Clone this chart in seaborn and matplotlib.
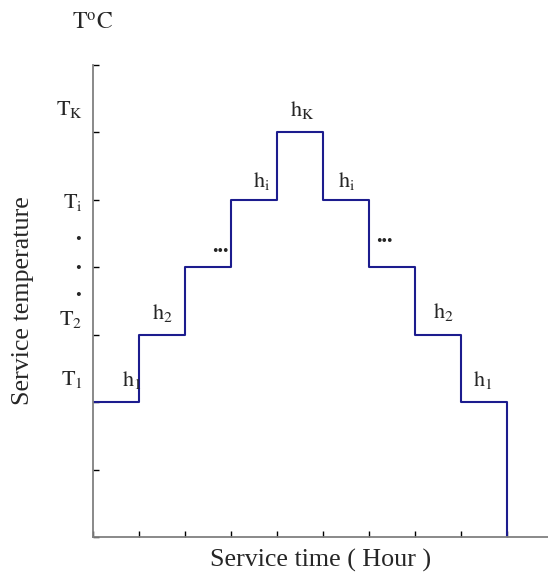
import matplotlib
matplotlib.use("Agg")
import matplotlib.pyplot as plt
import seaborn as sns
import pandas as pd

# Data
time_hours = [0, 1, 2, 3, 4, 5, 6, 7, 8, 9]
temp_levels = [2, 3, 4, 5, 6, 5, 4, 3, 2, 0]
x_ticks = [0, 1, 2, 3, 4, 5, 6, 7, 8, 9]
y_ticks = [0, 1, 2, 3, 4, 5, 6, 7]

y_labels = [r"$\mathrm{T}_\mathrm{K}$", r"$\mathrm{T}_\mathrm{i}$", r"$\mathrm{T}_2$", r"$\mathrm{T}_1$"]
y_label_pos = [6.34, 4.96, 3.22, 2.33]
y_dot_pos = [4.41, 3.98, 3.57]

h_labels = [r"$\mathrm{h}_1$", r"$\mathrm{h}_2$", r"$\mathrm{h}_\mathrm{i}$", r"$\mathrm{h}_\mathrm{K}$",
            r"$\mathrm{h}_\mathrm{i}$", r"$\mathrm{h}_2$", r"$\mathrm{h}_1$"]
h_x = [0.85, 1.52, 3.67, 4.54, 5.52, 7.61, 8.48]
h_y = [2.33, 3.32, 5.28, 6.34, 5.28, 3.34, 2.33]
ell_x = [2.76, 6.33]
ell_y = [4.23, 4.38]

sns.set_style("white")
plt.rcParams['font.family'] = ['Liberation Serif', 'DejaVu Serif']
plt.rcParams['mathtext.fontset'] = 'stix'

df = pd.DataFrame({"time": time_hours, "temp": temp_levels})

fig = plt.figure(figsize=(5.48, 5.76), dpi=100)
ax = fig.add_axes([93/548, 1 - 537/576, 1 - 93/548, (537 - 65)/576])

sns.lineplot(data=df, x="time", y="temp", ax=ax, estimator=None, sort=False,
             drawstyle="steps-post", color="#1c1c8e", linewidth=1.5)

ax.set_xlim(0, 9.89)
ax.set_ylim(0, 7)
ax.set_xticks(x_ticks)
ax.set_yticks(y_ticks)
ax.set_xticklabels([])
ax.set_yticklabels([])
ax.tick_params(direction="in", length=4.3, width=1.0, color="black",
               bottom=True, left=True)
for s in ["top", "right"]:
    ax.spines[s].set_visible(False)
for s in ["left", "bottom"]:
    ax.spines[s].set_color("#808080")
    ax.spines[s].set_linewidth(1.3)
ax.set_xlabel("")
ax.set_ylabel("")

fs = 16
for lab, yy in zip(y_labels, y_label_pos):
    ax.text(-0.22, yy, lab, ha="right", va="center", fontsize=fs, clip_on=False)
for yy in y_dot_pos:
    ax.text(-0.32, yy, "•", ha="center", va="center", fontsize=12, clip_on=False)

for lab, xx, yy in zip(h_labels, h_x, h_y):
    ax.text(xx, yy, lab, ha="center", va="center", fontsize=fs)
for xx, yy in zip(ell_x, ell_y):
    ax.text(xx, yy, "•••", ha="center", va="center", fontsize=11.5)

ax.text(0, 7.6, r"$\mathrm{T^{o}C}$", ha="center", va="center", fontsize=17, clip_on=False)
ax.text(-0.154, 0.5, "Service temperature", rotation=90, ha="center", va="center",
        fontsize=18.7, transform=ax.transAxes)
ax.text(0.5, -0.049, "Service time ( Hour )", ha="center", va="center",
        fontsize=18.7, transform=ax.transAxes)

fig.savefig("out.png", dpi=100)
